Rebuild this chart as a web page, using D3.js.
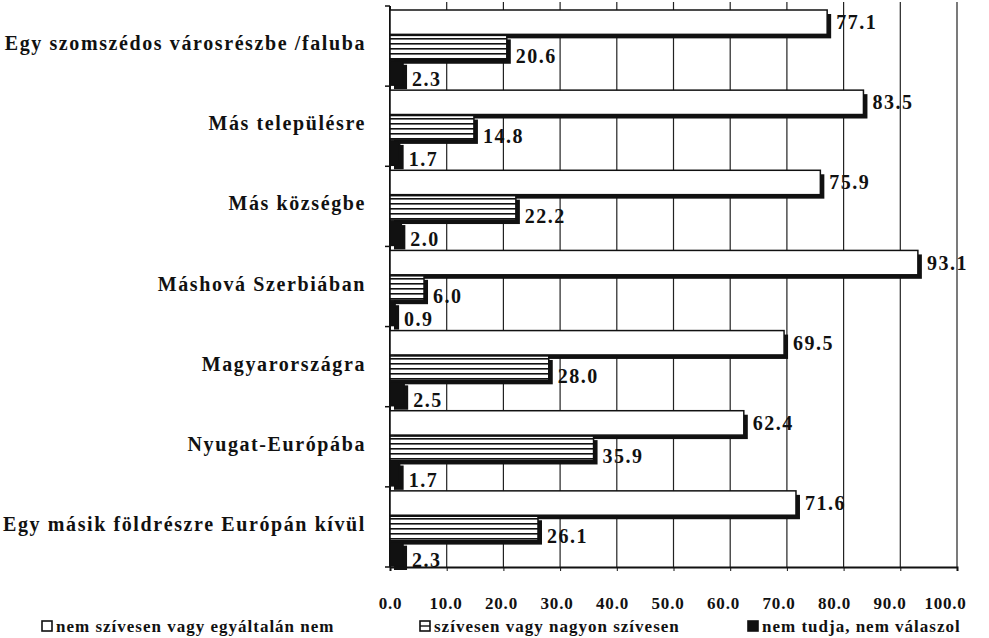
<!DOCTYPE html>
<html>
<head>
<meta charset="utf-8">
<script src="https://cdn.jsdelivr.net/npm/d3@7"></script>
<style>
  body { margin: 0; background: #fff; }
  text { font-family: "Liberation Serif", "Times New Roman", serif; font-weight: bold; fill: #111; }
</style>
</head>
<body>
<div id="chart"></div>
<script>
var categories = ["Egy szomszédos városrészbe /faluba", "Más településre", "Más községbe",
    "Máshová Szerbiában", "Magyarországra", "Nyugat-Európába", "Egy másik földrészre Európán kívül"];
var seriesNames = ["nem szívesen vagy egyáltalán nem", "szívesen vagy nagyon szívesen", "nem tudja, nem válaszol"];
var notWilling = [77.1, 83.5, 75.9, 93.1, 69.5, 62.4, 71.6];
var willing = [20.6, 14.8, 22.2, 6.0, 28.0, 35.9, 26.1];
var noAnswer = [2.3, 1.7, 2.0, 0.9, 2.5, 1.7, 2.3];
var xTicks = [0, 10, 20, 30, 40, 50, 60, 70, 80, 90, 100];

var width = 989, height = 638;
var plotLeft = 390, plotRight = 957, plotTop = 6, plotBottom = 567;

var svg = d3.select("#chart").append("svg")
    .attr("width", width)
    .attr("height", height);

var defs = svg.append("defs");
var pat = defs.append("pattern")
    .attr("id", "stripes")
    .attr("patternUnits", "userSpaceOnUse")
    .attr("width", 8).attr("height", 5);
pat.append("rect").attr("width", 8).attr("height", 5).attr("fill", "#fff");
pat.append("rect").attr("y", 3).attr("width", 8).attr("height", 1.6).attr("fill", "#111");

var x = d3.scaleLinear().domain([0, 100]).range([plotLeft, plotRight]);
var y = d3.scaleBand().domain(categories).range([plotTop, plotBottom]);
var inner = d3.scaleBand().domain([0, 1, 2]).range([4, y.bandwidth() - 1]).paddingInner(0.04);

// gridlines
svg.append("g").selectAll("line")
    .data(xTicks.slice(1))
    .join("line")
    .attr("x1", d => x(d)).attr("x2", d => x(d))
    .attr("y1", plotTop - 4).attr("y2", plotBottom)
    .attr("stroke", "#222").attr("stroke-width", 1.2);

// axes
var xAxis = svg.append("g")
    .attr("transform", "translate(0," + plotBottom + ")")
    .call(d3.axisBottom(x).tickValues(xTicks).tickSize(4).tickFormat(d3.format(".1f")));
xAxis.select(".domain").attr("stroke", "#111").attr("stroke-width", 2);
xAxis.selectAll(".tick line").attr("stroke", "#111");
xAxis.selectAll("text")
    .attr("y", 30)
    .attr("dx", d => -d * 0.12)
    .attr("font-size", 17)
    .attr("letter-spacing", 0.8)
    .style("font-family", "'Liberation Serif', serif")
    .style("font-weight", "bold");

var yAxis = svg.append("g")
    .attr("transform", "translate(" + plotLeft + ",0)");
yAxis.append("line")
    .attr("x1", 0).attr("x2", 0).attr("y1", plotTop).attr("y2", plotBottom)
    .attr("stroke", "#111").attr("stroke-width", 2);
yAxis.selectAll(".tk")
    .data(d3.range(categories.length + 1))
    .join("line")
    .attr("x1", -5).attr("x2", 0)
    .attr("y1", i => plotTop + i * y.bandwidth())
    .attr("y2", i => plotTop + i * y.bandwidth())
    .attr("stroke", "#111").attr("stroke-width", 1.5);

svg.append("g").selectAll("text")
    .data(categories)
    .join("text")
    .attr("x", 366)
    .attr("y", d => y(d) + y.bandwidth() / 2)
    .attr("dy", "0.2em")
    .attr("text-anchor", "end")
    .attr("font-size", 20)
    .attr("letter-spacing", 1.6)
    .text(d => d);

// bars
var series = [notWilling, willing, noAnswer];
var fills = ["#fff", "url(#stripes)", "#111"];
var labelShift = [0, 8, 6];
var shadow = 4;

categories.forEach(function(cat, i) {
    var g = svg.append("g");
    series.forEach(function(vals, s) {
        var by = y(cat) + inner(s);
        var bh = inner.bandwidth();
        var w = x(vals[i]) - x(0);
        g.append("rect")
            .attr("x", x(0) + shadow).attr("y", by + shadow)
            .attr("width", w).attr("height", bh)
            .attr("fill", "#111");
        g.append("rect")
            .attr("x", x(0)).attr("y", by)
            .attr("width", w).attr("height", bh)
            .attr("fill", fills[s])
            .attr("stroke", "#111").attr("stroke-width", 1.5);
        g.append("text")
            .attr("x", x(vals[i]) + shadow + 5)
            .attr("y", by + bh / 2 + labelShift[s])
            .attr("dy", "0.35em")
            .attr("font-size", 20)
            .attr("letter-spacing", 1.5)
            .text(d3.format(".1f")(vals[i]));
    });
});

// legend
var legendX = [42, 420, 748];
var legend = svg.append("g").selectAll("g")
    .data(seriesNames)
    .join("g")
    .attr("transform", (d, i) => "translate(" + legendX[i] + ",626)");
legend.append("rect")
    .attr("x", 0).attr("y", -5).attr("width", 10).attr("height", 10)
    .attr("fill", (d, i) => i == 2 ? "#111" : "#fff")
    .attr("stroke", "#111").attr("stroke-width", 1.6);
legend.filter((d, i) => i == 1).append("line")
    .attr("x1", 0).attr("x2", 10).attr("y1", 0).attr("y2", 0)
    .attr("stroke", "#111").attr("stroke-width", 1.4);
legend.append("text")
    .attr("x", 14)
    .attr("dy", "0.35em")
    .attr("font-size", 17)
    .attr("letter-spacing", 1)
    .text(d => d);
</script>
</body>
</html>
